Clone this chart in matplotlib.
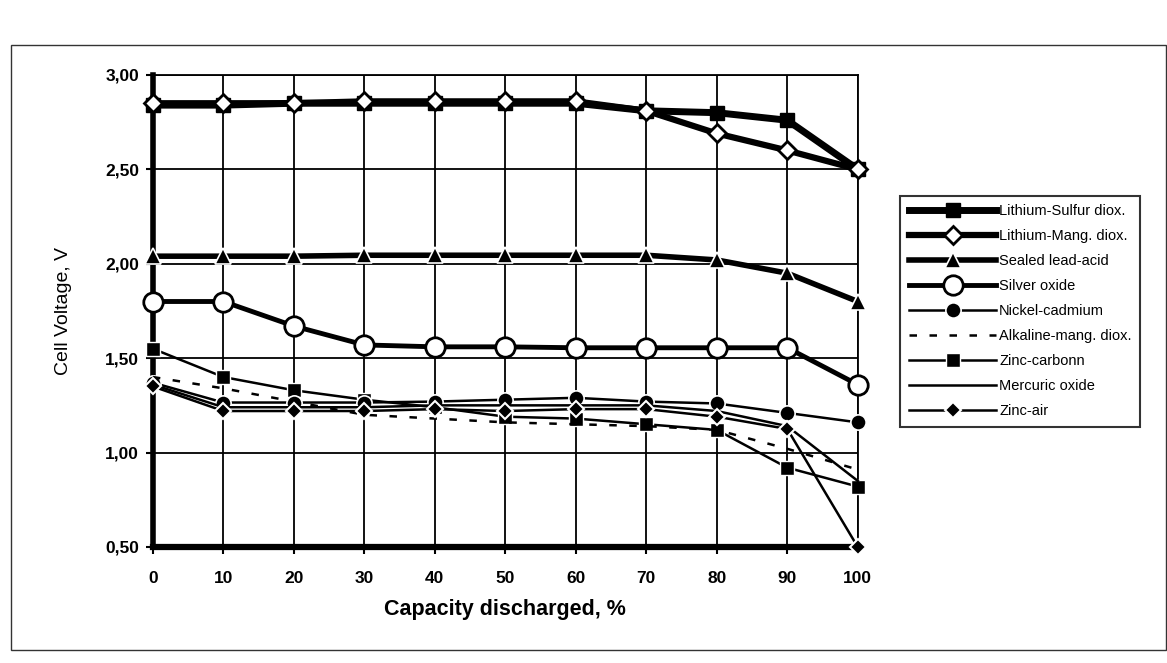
"""
Cell voltage vs capacity discharged for several primary / secondary cell types.
Saves out.png (1167x663).
"""

import matplotlib
matplotlib.use("Agg")
import matplotlib.pyplot as plt
from matplotlib.patches import Rectangle
from matplotlib.ticker import FuncFormatter, MultipleLocator

plt.rcParams["font.family"] = ["Liberation Sans", "DejaVu Sans"]

# ---------------------------------------------------------------------------
# Data
# ---------------------------------------------------------------------------

capacity = [0, 10, 20, 30, 40, 50, 60, 70, 80, 90, 100]

li_sulfur   = [2.84, 2.84, 2.85, 2.85, 2.85, 2.85, 2.85, 2.81, 2.80, 2.76, 2.50]
li_mang     = [2.85, 2.85, 2.85, 2.86, 2.86, 2.86, 2.86, 2.81, 2.69, 2.60, 2.50]
lead_acid   = [2.04, 2.04, 2.04, 2.045, 2.045, 2.045, 2.045, 2.045, 2.02, 1.95, 1.80]
silver_ox   = [1.80, 1.80, 1.67, 1.57, 1.56, 1.56, 1.555, 1.555, 1.555, 1.555, 1.36]
nickel_cd   = [1.37, 1.265, 1.265, 1.265, 1.27, 1.28, 1.29, 1.27, 1.26, 1.21, 1.16]
alkaline    = [1.40, 1.34, 1.27, 1.20, 1.18, 1.16, 1.15, 1.14, 1.12, 1.02, 0.91]
zinc_carbon = [1.55, 1.40, 1.33, 1.28, 1.24, 1.19, 1.18, 1.15, 1.12, 0.92, 0.82]
mercuric    = [1.36, 1.24, 1.24, 1.24, 1.25, 1.25, 1.25, 1.25, 1.22, 1.14, 0.85]
zinc_air    = [1.35, 1.22, 1.22, 1.22, 1.23, 1.22, 1.23, 1.23, 1.19, 1.125, 0.50]

labels = [
    "Lithium-Sulfur diox.",
    "Lithium-Mang. diox.",
    "Sealed lead-acid",
    "Silver oxide",
    "Nickel-cadmium",
    "Alkaline-mang. diox.",
    "Zinc-carbonn",
    "Mercuric oxide",
    "Zinc-air",
]

# ---------------------------------------------------------------------------
# Styles
# ---------------------------------------------------------------------------

_STYLE = [
    dict(lw=5.0, ls="-", marker="s", ms=10, mfc="black", mec="black", mew=1.0, zorder=3),
    dict(lw=4.5, ls="-", marker="D", ms=9, mfc="white", mec="black", mew=2.0, zorder=4),
    dict(lw=4.0, ls="-", marker="^", ms=11, mfc="black", mec="white", mew=1.2, zorder=3),
    dict(lw=3.5, ls="-", marker="o", ms=14, mfc="white", mec="black", mew=2.0, zorder=3),
    dict(lw=1.8, ls="-", marker="o", ms=11, mfc="black", mec="white", mew=1.2, zorder=4),
    dict(lw=1.8, ls=(0, (3, 5)), marker="", zorder=4),
    dict(lw=1.8, ls="-", marker="s", ms=10, mfc="black", mec="white", mew=1.0, zorder=3),
    dict(lw=1.8, ls="-", marker="", zorder=4),
    dict(lw=1.8, ls="-", marker="D", ms=8, mfc="black", mec="white", mew=1.5, zorder=5),
]

series = [li_sulfur, li_mang, lead_acid, silver_ox, nickel_cd,
          alkaline, zinc_carbon, mercuric, zinc_air]

# ---------------------------------------------------------------------------
# Plot
# ---------------------------------------------------------------------------

fig = plt.figure(figsize=(11.67, 6.63), dpi=100)
ax = fig.add_axes([0.131, 0.175, 0.604, 0.712])

# outer chart frame
fig.patches.append(Rectangle((0.009, 0.02), 0.99, 0.912, transform=fig.transFigure,
                             fill=False, lw=1.0, ec="#333333"))

for ys, lab, st in zip(series, labels, _STYLE):
    ax.plot(capacity, ys, color="black", label=lab, clip_on=False, **st)

ax.set_xlim(0, 100)
ax.set_ylim(0.5, 3.0)
ax.xaxis.set_major_locator(MultipleLocator(10))
ax.yaxis.set_major_locator(MultipleLocator(0.5))
ax.yaxis.set_major_formatter(FuncFormatter(lambda v, _: f"{v:.2f}".replace(".", ",")))

ax.grid(True, color="black", lw=1.3)
ax.set_axisbelow(True)
for side in ("top", "right"):
    ax.spines[side].set_linewidth(1.3)
ax.spines["left"].set_linewidth(4)
ax.spines["bottom"].set_linewidth(4.5)

ax.tick_params(axis="both", direction="out", length=5, width=1.5, color="black")
ax.tick_params(axis="x", pad=12, labelsize=12.5)
ax.tick_params(axis="y", pad=5, labelsize=12.5)
for t in ax.get_xticklabels() + ax.get_yticklabels():
    t.set_fontweight("bold")

ax.set_xlabel("Capacity discharged, %", fontsize=15.5, fontweight="bold", labelpad=10)
ax.set_ylabel("Cell Voltage, V", fontsize=14, labelpad=24)

leg = fig.legend(
    loc="upper left",
    bbox_to_anchor=(0.765, 0.716),
    fontsize=10.5,
    handlelength=6.0,
    handletextpad=0.2,
    labelspacing=0.75,
    borderpad=0.6,
    fancybox=False,
    frameon=True,
)
leg.get_frame().set_edgecolor("black")
leg.get_frame().set_linewidth(1.5)

fig.savefig("out.png", dpi=100)
plt.close(fig)
